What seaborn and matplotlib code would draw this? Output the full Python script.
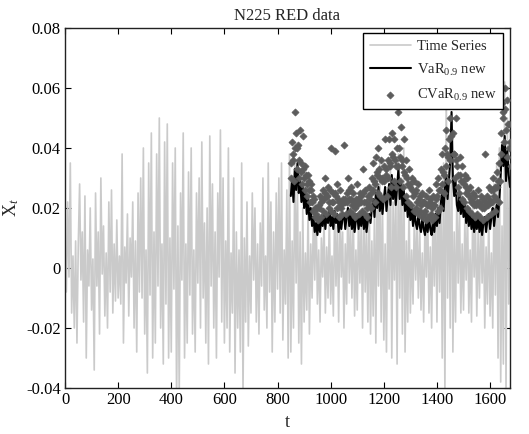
import numpy as np
import pandas as pd
import matplotlib
matplotlib.use("Agg")
import matplotlib.pyplot as plt
import seaborn as sns

# ---------------- data (values in per-mille, i.e. x 1e-3) ----------------
ts_step = 5
ts_permille = [
    # t 0-95
    5, -8, 22, -3, 35, -15, 4, -20, 9, -25, 8, 28, -4, 12, -18, 24, -30, 6, -6, 20,
    # t 100-195
    -14, 3, -34, 25, -6, 12, -22, 30, -2, 14, -16, 5, -20, 22, -8, 26, -15, 8, -11, 16,
    # t 200-295
    -10, 4, -12, 38, -25, 7, -5, 18, -16, 10, -3, 22, -20, 9, -28, 25, -8, 30, -10, 40,
    # t 300-395
    -22, 6, -35, 35, -9, 45, -30, 12, -25, 38, -6, 50, -20, 8, -32, 42, -12, 48, -30, 10,
    # t 400-495
    -28, 35, -7, 40, -45, 14, -42, 25, -4, 45, -30, 8, -25, 32, -9, 40, -22, 6, -28, 25,
    # t 500-595
    -5, 30, -20, 42, -10, 15, -25, 20, -32, 44, -6, 28, -20, 12, -30, 25, -3, 46, -18, 30,
    # t 600-695
    -25, 9, -20, 40, -28, 5, -15, 30, -35, 12, -20, 6, -28, 35, -42, 10, -18, 22, -26, 4,
    # t 700-795
    -15, 25, -4, 20, -18, 8, -22, 15, -6, 30, -14, 4, -20, 35, -8, 22, -28, 12, -18, 25,
    # t 800-895
    -7, 30, -15, 35, -24, 6, -12, 26, -30, 38, -28, 9, -20, 35, -5, 28, -25, 12, -32, 20,
    # t 900-995
    -18, 5, -14, 20, -22, 8, -10, 18, -4, 22, -12, 6, -18, 10, -3, 16, -15, 7, -10, 18,
    # t 1000-1095
    -12, 4, -16, 20, -6, 14, -18, 22, -3, 12, -20, 8, -12, 25, -5, 14, -10, 20, -16, 6,
    # t 1100-1195
    -14, 18, -5, 15, -20, 22, -8, 12, -18, 25, -22, 9, -16, 20, -25, 30, -6, 35, -18, 22,
    # t 1200-1295
    -24, 8, -28, 25, -7, 35, -30, 22, -4, 28, -32, 38, -10, 30, -22, 40, -28, 9, -18, 22,
    # t 1300-1395
    -15, 6, -12, 18, -4, 14, -10, 15, -14, 5, -18, 16, -3, 20, -15, 7, -20, 18, -6, 22,
    # t 1400-1495
    -18, 25, -8, 28, -30, 35, -42, 60, -10, 32, -20, 45, -28, 12, -18, 25, -5, 20, -15, 8,
    # t 1500-1595
    -14, 16, -4, 20, -15, 6, -18, 22, -3, 15, -16, 12, -10, 18, -5, 16, -20, 7, -12, 18,
    # t 1600-1675
    -16, 5, -20, 28, -9, 35, -30, 40, -38, 14, -32, 62, -42, 50, -12, 30,
]

risk_start = 850
risk_step = 5
var_permille = [
    # t 850-945
    24, 30, 22, 33, 26, 35, 25, 29, 22, 27, 20, 25, 18, 23, 16, 20, 14, 17, 12, 15,
    # t 950-1045
    11, 16, 12, 17, 14, 19, 13, 18, 15, 20, 14, 17, 13, 19, 15, 18, 12, 16, 13, 17,
    # t 1050-1145
    18, 13, 17, 20, 14, 18, 13, 17, 12, 16, 18, 13, 17, 14, 19, 13, 17, 12, 16, 18,
    # t 1150-1245
    15, 20, 23, 17, 25, 20, 27, 19, 24, 18, 23, 27, 19, 24, 28, 21, 31, 23, 29, 21,
    # t 1250-1345
    27, 33, 23, 29, 21, 26, 19, 24, 17, 22, 16, 20, 14, 19, 15, 13, 18, 14, 12, 17,
    # t 1350-1445
    13, 11, 16, 12, 17, 13, 11, 16, 12, 18, 14, 20, 15, 22, 25, 19, 27, 31, 23, 29,
    # t 1450-1545
    36, 52, 30, 24, 29, 21, 19, 25, 18, 23, 17, 21, 15, 20, 14, 18, 13, 17, 12, 16,
    # t 1550-1645
    13, 17, 12, 16, 11, 15, 17, 12, 16, 18, 13, 17, 20, 14, 18, 21, 17, 23, 31, 41,
    # t 1650-1675
    34, 44, 29, 39, 31, 27,
]
# CVaR read at t = 850, 855, ...
cvar_permille = [
    # t 850-945
    35, 42, 38, 52, 45, 40, 36, 46, 32, 44, 30, 34, 28, 31, 26, 28, 22, 24, 20, 18,
    # t 950-1045
    17, 20, 24, 22, 26, 23, 30, 24, 27, 22, 40, 22, 25, 39, 24, 28, 22, 26, 20, 23,
    # t 1050-1145
    41, 22, 25, 30, 23, 27, 21, 25, 20, 23, 28, 22, 25, 24, 33, 22, 26, 20, 24, 27,
    # t 1150-1245
    25, 30, 35, 28, 37, 32, 40, 30, 36, 29, 34, 43, 31, 36, 43, 34, 45, 37, 43, 34,
    # t 1250-1345
    40, 52, 37, 47, 34, 43, 31, 36, 28, 33, 27, 30, 24, 29, 26, 22, 28, 24, 21, 25,
    # t 1350-1445
    22, 19, 24, 21, 26, 23, 20, 24, 21, 28, 24, 30, 26, 33, 38, 31, 40, 46, 37, 43,
    # t 1450-1545
    50, 60, 45, 38, 50, 34, 31, 37, 29, 34, 28, 31, 25, 30, 24, 27, 22, 25, 21, 24,
    # t 1550-1645
    22, 26, 21, 24, 20, 23, 38, 21, 24, 27, 22, 26, 30, 24, 27, 32, 29, 35, 45, 55,
    # t 1650-1675
    52, 60, 46, 56, 48, 42,
]
# CVaR read at the in-between days t = 852.5, 857.5, ...
cvar_mid_offset = 2.5
cvar_mid_permille = [
    # t 852-947
    30, 36, 29, 40, 33, 41, 30, 35, 28, 33, 26, 31, 24, 29, 22, 26, 19, 23, 17, 20,
    # t 952-1047
    16, 21, 17, 23, 19, 25, 18, 24, 20, 26, 19, 22, 18, 25, 20, 23, 17, 21, 18, 22,
    # t 1052-1147
    23, 18, 22, 26, 19, 23, 18, 22, 17, 21, 23, 18, 22, 19, 25, 18, 22, 17, 21, 23,
    # t 1152-1247
    20, 26, 29, 22, 31, 25, 33, 24, 30, 23, 29, 33, 24, 30, 35, 27, 38, 29, 36, 27,
    # t 1252-1347
    34, 40, 29, 36, 27, 32, 24, 30, 22, 28, 21, 26, 19, 25, 20, 18, 23, 19, 17, 22,
    # t 1352-1447
    18, 16, 21, 17, 22, 18, 16, 21, 17, 23, 19, 26, 20, 28, 32, 25, 34, 38, 29, 36,
    # t 1452-1547
    44, 55, 38, 30, 36, 27, 25, 31, 23, 29, 22, 27, 20, 26, 19, 23, 18, 22, 17, 21,
    # t 1552-1647
    18, 22, 17, 21, 16, 20, 22, 17, 21, 23, 18, 22, 26, 19, 23, 27, 22, 29, 38, 50,
    # t 1652-1677
    42, 53, 37, 48, 40, 34,
]

x_ticks = [0, 200, 400, 600, 800, 1000, 1200, 1400, 1600]
y_ticks = [-0.04, -0.02, 0, 0.02, 0.04, 0.06, 0.08]
y_tick_labels = ["-0.04", "-0.02", "0", "0.02", "0.04", "0.06", "0.08"]

# ---------------- frames ----------------
ts_df = pd.DataFrame({
    "t": np.arange(len(ts_permille)) * ts_step,
    "x": np.array(ts_permille) / 1000.0,
})
risk_t = risk_start + np.arange(len(var_permille)) * risk_step
var_df = pd.DataFrame({"t": risk_t, "var": np.array(var_permille) / 1000.0})
cvar_df = pd.DataFrame({
    "t": np.concatenate([risk_start + np.arange(len(cvar_permille)) * risk_step,
                         risk_start + cvar_mid_offset
                         + np.arange(len(cvar_mid_permille)) * risk_step]),
    "cvar": np.concatenate([cvar_permille, cvar_mid_permille]) / 1000.0,
})

# ---------------- style ----------------
sns.set_style("ticks")
plt.rcParams["font.family"] = ["Liberation Serif", "DejaVu Serif"]
plt.rcParams["mathtext.fontset"] = "custom"
plt.rcParams["mathtext.rm"] = "Liberation Serif"
plt.rcParams["mathtext.it"] = "Liberation Serif:italic"
plt.rcParams["xtick.direction"] = "in"
plt.rcParams["ytick.direction"] = "in"

fig = plt.figure(figsize=(5.29, 4.34), dpi=100)
ax = fig.add_axes([65 / 529, 1 - 388 / 434, 445 / 529, 360 / 434])

sns.lineplot(data=ts_df, x="t", y="x", ax=ax, color="#cacaca", lw=1.2,
             estimator=None, label="Time Series")
sns.lineplot(data=var_df, x="t", y="var", ax=ax, color="black", lw=1.5,
             estimator=None, label=r"VaR$_{0.9}$ new")
sns.scatterplot(data=cvar_df, x="t", y="cvar", ax=ax, color="#5c5c5c",
                marker="D", s=13, edgecolor="#5c5c5c", linewidth=0.5,
                label=r"CVaR$_{0.9}$ new", zorder=3)

ax.set_xlim(0, 1675)
ax.set_ylim(-0.04, 0.08)
ax.set_xticks(x_ticks)
ax.set_xticklabels([str(v) for v in x_ticks])
ax.set_yticks(y_ticks)
ax.set_yticklabels(y_tick_labels)
ax.tick_params(axis="both", which="both", top=True, right=True, length=4,
               width=0.8, labelsize=12, pad=3, colors="black")
for sp in ax.spines.values():
    sp.set_visible(True)
    sp.set_color("#222222")
    sp.set_linewidth(1.0)

ax.set_title("N225 RED data", fontsize=12, pad=6)
ax.set_xlabel("t", fontsize=13, labelpad=4)
ax.set_ylabel(r"X$_t$", fontsize=13)
ax.yaxis.set_label_coords(-0.098, 0.5)

leg = ax.legend(loc="upper right", bbox_to_anchor=(0.984, 0.986),
                borderaxespad=0, fontsize=10.5, frameon=True, fancybox=False,
                framealpha=1, edgecolor="black", handlelength=2.8,
                labelspacing=0.6, borderpad=0.45, handletextpad=0.4)
leg.get_frame().set_linewidth(1.0)

fig.savefig("out.png", dpi=100)
